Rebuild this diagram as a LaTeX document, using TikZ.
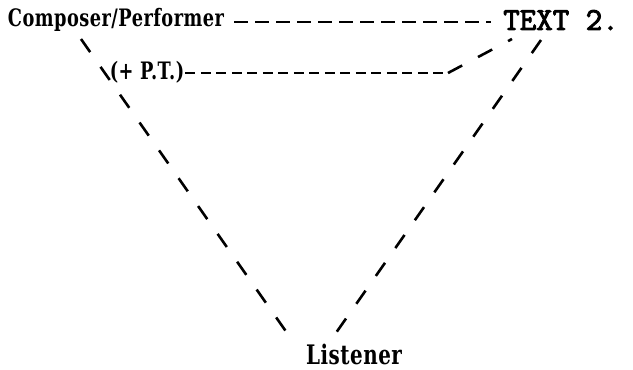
\documentclass[tikz,border=0pt]{standalone}
\usepackage{fontspec}
\newfontfamily\slabfont[FakeStretch=0.74, LetterSpace=2]{DejaVu Serif}
\newfontfamily\typefont[FakeBold=3]{Latin Modern Mono}

\begin{document}
\begin{tikzpicture}[x=1pt, y=-1pt,
    lbl/.style={inner sep=0pt, font=\slabfont\bfseries\fontsize{24}{28}\selectfont},
    tw/.style={inner sep=0pt, font=\typefont\fontsize{32}{34}\selectfont},
    hline/.style={line width=2.8pt, dash pattern=on 14pt off 7pt},
    pline/.style={line width=2.8pt, dash pattern=on 10pt off 5.5pt},
    dline/.style={line width=2.6pt, dash pattern=on 16pt off 18pt}]
    \useasboundingbox (0,0) rectangle (633,370);
    \node[lbl] (cp) at (116,20) {Composer/Performer};
    \node[tw] (t2) at (561,20) {TEXT 2.};
    \node[lbl] (pt) at (147,72) {(+ P.T.)};
    \node[lbl, scale=1.12] (ls) at (354,354) {Listener};
    \coordinate (bend) at (448,73);
    \coordinate (cpfoot) at (81,39);
    \coordinate (tin) at (512,39);
    \coordinate (tout) at (541,40);
    \coordinate (lsleft) at (292,340);
    \coordinate (lsright) at (331,340);
    \draw[hline] ([xshift=10pt]cp.east |- 0,22) -- ([xshift=-12pt]t2.west |- 0,22);
    \draw[pline] ([xshift=1pt]pt.east |- 0,73) -- (bend);
    \draw[dline] (bend) -- (tin);
    \draw[dline] (cpfoot) -- (lsleft);
    \draw[dline] (tout) -- (lsright);
\end{tikzpicture}
\end{document}
